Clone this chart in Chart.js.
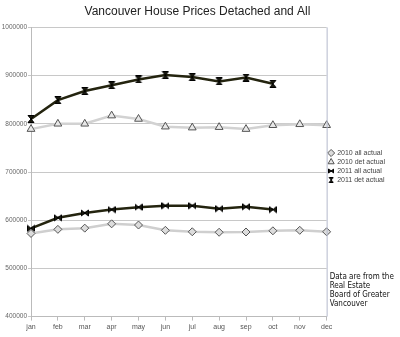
<!DOCTYPE html>
<html lang="en">
<head>
    <meta charset="UTF-8">
    <title>Vancouver House Prices Detached and All</title>
    <script src="https://cdn.jsdelivr.net/npm/chart.js"></script>
    <style>
        html, body { margin: 0; padding: 0; background: #fff; }
        #wrap { width: 400px; height: 337px; }
    </style>
</head>
<body>
    <div id="wrap"><canvas id="myChart" width="400" height="337"></canvas></div>
    <script>
    const months = ['jan', 'feb', 'mar', 'apr', 'may', 'jun', 'jul', 'aug', 'sep', 'oct', 'nov', 'dec'];
    const all2010 = [572500, 581000, 583500, 592500, 590000, 579000, 576000, 575000, 575500, 578000, 579000, 576000];
    const det2010 = [789000, 800000, 800000, 817000, 810000, 794000, 792000, 793000, 789000, 797000, 799000, 797000];
    const all2011 = [583000, 605000, 615000, 622000, 627000, 630000, 630000, 624000, 628000, 622000];
    const det2011 = [810000, 849000, 868000, 880000, 892000, 901000, 897000, 888000, 896000, 883000];
    const noteLines = ['Data are from the', 'Real Estate', 'Board of Greater', 'Vancouver'];

    // little bow-tie / hourglass marker images for the 2011 series
    function makeMarker(vertical, size) {
        const c = document.createElement('canvas');
        c.width = size;
        c.height = size;
        const g = c.getContext('2d');
        const m = size / 2, e = size - 0.5;
        g.fillStyle = '#1c1c10';
        g.strokeStyle = '#000';
        g.lineWidth = 1;
        g.beginPath();
        if (vertical) {
            g.moveTo(1, 0.5); g.lineTo(size - 1, 0.5); g.lineTo(m, m);
            g.lineTo(size - 1, e); g.lineTo(1, e); g.lineTo(m, m);
        } else {
            g.moveTo(0.5, 1); g.lineTo(0.5, size - 1); g.lineTo(m, m);
            g.lineTo(e, size - 1); g.lineTo(e, 1); g.lineTo(m, m);
        }
        g.closePath();
        g.fill();
        g.stroke();
        return c;
    }

    const noteAndBorder = {
        id: 'noteAndBorder',
        afterDraw(chart) {
            const { ctx, chartArea } = chart;
            ctx.save();
            ctx.strokeStyle = '#b4bacd';
            ctx.lineWidth = 1;
            ctx.beginPath();
            ctx.moveTo(chartArea.right + 0.5, chartArea.top);
            ctx.lineTo(chartArea.right + 0.5, chartArea.bottom);
            ctx.stroke();
            ctx.fillStyle = '#111';
            ctx.font = '8px "DejaVu Sans Condensed"';
            ctx.textBaseline = 'top';
            noteLines.forEach((line, i) => {
                ctx.fillText(line, chartArea.right + 3, 273 + i * 9);
            });
            ctx.restore();
        }
    };

    const legendMarkers = [null, null, makeMarker(false, 6), makeMarker(true, 6)];

    const ctx = document.getElementById('myChart').getContext('2d');
    const myChart = new Chart(ctx, {
        type: 'line',
        data: {
            labels: months,
            datasets: [
                {
                    label: '2010 all actual',
                    data: all2010,
                    borderColor: '#cfcfcf',
                    borderWidth: 2.5,
                    pointStyle: 'rectRot',
                    pointRadius: 4,
                    pointBackgroundColor: '#dcdcdc',
                    pointBorderColor: '#555',
                    pointBorderWidth: 1,
                    backgroundColor: '#dcdcdc'
                },
                {
                    label: '2010 det actual',
                    data: det2010,
                    borderColor: '#d2d2d2',
                    borderWidth: 2.5,
                    pointStyle: 'triangle',
                    pointRadius: 4.5,
                    pointBackgroundColor: '#e8e8e8',
                    pointBorderColor: '#555',
                    pointBorderWidth: 1,
                    backgroundColor: '#e8e8e8'
                },
                {
                    label: '2011 all actual',
                    data: all2011,
                    borderColor: '#24240f',
                    borderWidth: 2.5,
                    pointStyle: makeMarker(false, 8),
                    backgroundColor: '#1c1c10'
                },
                {
                    label: '2011 det actual',
                    data: det2011,
                    borderColor: '#24240f',
                    borderWidth: 2.5,
                    pointStyle: makeMarker(true, 8),
                    backgroundColor: '#1c1c10'
                }
            ]
        },
        options: {
            responsive: false,
            animation: false,
            layout: { padding: { top: 0, right: 5, bottom: 4, left: 0 } },
            plugins: {
                title: {
                    display: true,
                    text: 'Vancouver House Prices Detached and All',
                    color: '#222',
                    font: { family: 'Liberation Sans', size: 12, weight: 'normal' },
                    padding: { top: 4, bottom: 9 }
                },
                legend: {
                    position: 'right',
                    align: 'center',
                    labels: {
                        usePointStyle: true,
                        color: '#444',
                        font: { family: 'Liberation Sans', size: 7 },
                        boxWidth: 5,
                        boxHeight: 5,
                        padding: 2,
                        generateLabels(chart) {
                            const items = Chart.defaults.plugins.legend.labels.generateLabels(chart);
                            items.forEach((item, i) => {
                                if (legendMarkers[i]) item.pointStyle = legendMarkers[i];
                            });
                            return items;
                        }
                    }
                },
                tooltip: { enabled: false }
            },
            scales: {
                x: {
                    offset: false,
                    grid: { drawOnChartArea: false, drawTicks: true, tickLength: 4, color: '#bbb' },
                    border: { color: '#bbb' },
                    ticks: { color: '#555', font: { family: 'Liberation Sans', size: 7 }, padding: 2, maxRotation: 0 }
                },
                y: {
                    min: 400000,
                    max: 1000000,
                    ticks: {
                        stepSize: 100000,
                        color: '#666',
                        font: { family: 'Liberation Sans', size: 6.5 },
                        padding: 1,
                        callback: value => String(value)
                    },
                    grid: { color: '#c8c8c8', tickLength: 3 },
                    border: { color: '#bbb' },
                    afterFit(scale) { scale.width = 31; }
                }
            }
        },
        plugins: [noteAndBorder]
    });
    </script>
</body>
</html>
